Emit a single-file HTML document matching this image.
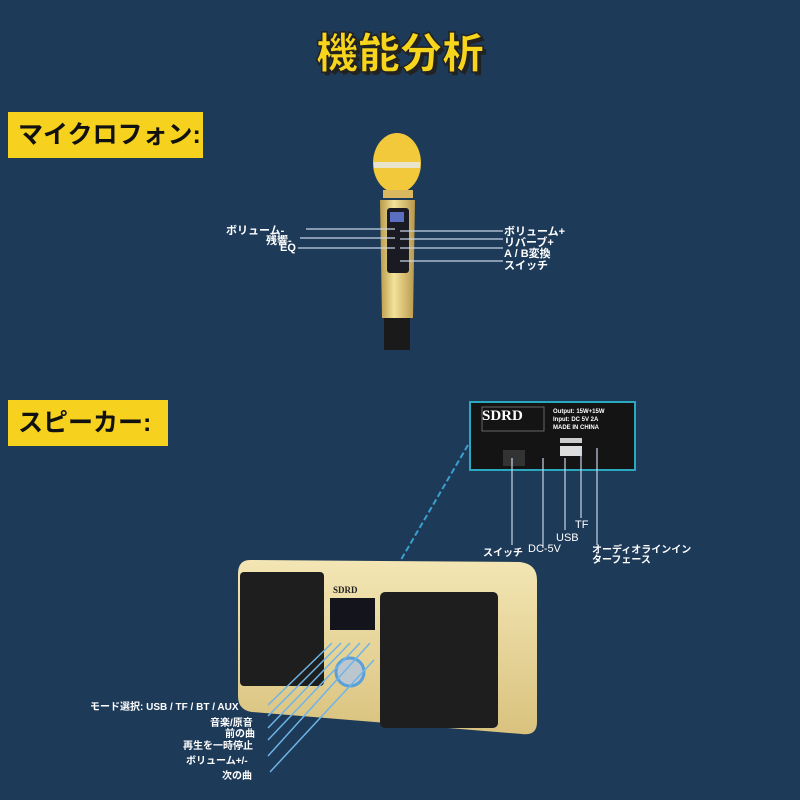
<!DOCTYPE html>
<html><head><meta charset="utf-8"><style>
body{margin:0;width:800px;height:800px;background:#1d3a58;overflow:hidden;position:relative;font-family:"Liberation Sans","Noto Sans CJK JP",sans-serif}
.t{position:absolute;white-space:nowrap;color:#fff;font-weight:bold}
.lab{position:absolute;background:#f6d21e;color:#111;font-size:25px;font-weight:bold;line-height:46px;padding-left:10px;box-sizing:border-box}
</style></head><body>
<div class="t" style="left:0;width:800px;text-align:center;top:20px;font-size:42px;color:#f8d51d;font-weight:900;-webkit-text-stroke:1.5px #222;text-shadow:3px 3px 0 #222">機能分析</div>
<div class="lab" style="left:8px;top:112px;width:195px;height:46px">マイクロフォン:</div>
<div class="lab" style="left:8px;top:400px;width:160px;height:46px">スピーカー:</div>

<svg width="800" height="800" style="position:absolute;left:0;top:0">
<defs>
<linearGradient id="g" x1="0" x2="1"><stop offset="0" stop-color="#b99a4a"/><stop offset=".4" stop-color="#f3e29a"/><stop offset="1" stop-color="#b8974a"/></linearGradient>
<linearGradient id="sp" x1="0" y1="0" x2="0" y2="1"><stop offset="0" stop-color="#f3e6b4"/><stop offset="1" stop-color="#d9c27e"/></linearGradient>
</defs>
<!-- mic -->
<ellipse cx="397" cy="163" rx="24" ry="30" fill="#f1c93a"/>
<rect x="374" y="162" width="46" height="6" fill="#e9e4cc"/>
<rect x="383" y="190" width="30" height="8" fill="#d9b860"/>
<path d="M380 200 L415 200 L413 318 L382 318 Z" fill="url(#g)"/>
<rect x="387" y="208" width="22" height="65" rx="3" fill="#1a1a22"/>
<rect x="390" y="212" width="14" height="10" fill="#5a6fc0"/>
<rect x="384" y="318" width="26" height="32" fill="#1a1a1a"/>
<g stroke="#c8d4e6" stroke-width="1.2">
<line x1="306" y1="229" x2="395" y2="229"/><line x1="300" y1="238" x2="395" y2="238"/><line x1="298" y1="248" x2="395" y2="248"/>
<line x1="400" y1="231" x2="503" y2="231"/><line x1="400" y1="239" x2="503" y2="239"/><line x1="400" y1="248" x2="503" y2="248"/><line x1="400" y1="261" x2="503" y2="261"/>
</g>
<!-- panel -->
<rect x="470" y="402" width="165" height="68" fill="#141414" stroke="#2aa8c0" stroke-width="2"/>
<rect x="482" y="407" width="62" height="24" fill="none" stroke="#666"/>
<rect x="503" y="450" width="22" height="16" fill="#333"/>
<rect x="560" y="446" width="22" height="10" fill="#ddd"/>
<rect x="560" y="438" width="22" height="5" fill="#ccc"/>
<g stroke="#c8d4e6" stroke-width="1.2">
<line x1="512" y1="458" x2="512" y2="545"/><line x1="543" y1="458" x2="543" y2="548"/>
<line x1="565" y1="458" x2="565" y2="530"/><line x1="581" y1="448" x2="581" y2="518"/><line x1="597" y1="448" x2="597" y2="545"/>
</g>
<line x1="468" y1="445" x2="395" y2="570" stroke="#3b9fd0" stroke-width="2" stroke-dasharray="6 3"/>
<!-- speaker -->
<path d="M250 560 L520 562 Q537 564 537 580 L537 722 Q537 736 522 734 L252 712 Q238 710 238 696 L238 574 Q238 560 250 560 Z" fill="url(#sp)"/>
<rect x="240" y="572" width="84" height="114" rx="4" fill="#1e1e1e"/>
<rect x="380" y="592" width="118" height="136" rx="5" fill="#1e1e1e"/>
<rect x="330" y="598" width="45" height="32" fill="#14141c"/>
<circle cx="350" cy="672" r="14" fill="#bcc6cf" stroke="#5aa0d8" stroke-width="3"/>
<g stroke="#6fb4e6" stroke-width="1.5">
<line x1="332" y1="643" x2="268" y2="705"/><line x1="341" y1="643" x2="268" y2="716"/><line x1="350" y1="643" x2="268" y2="728"/>
<line x1="360" y1="643" x2="268" y2="740"/><line x1="370" y1="643" x2="268" y2="756"/><line x1="374" y1="660" x2="270" y2="772"/>
</g>
</svg>

<div class="t" style="left:226px;top:222px;font-size:11px">ボリューム-</div>
<div class="t" style="left:266px;top:232px;font-size:11px">残響-</div>
<div class="t" style="left:280px;top:242px;font-size:11px">EQ</div>
<div class="t" style="left:504px;top:223px;font-size:11px">ボリューム+</div>
<div class="t" style="left:504px;top:234px;font-size:11px">リバーブ+</div>
<div class="t" style="left:504px;top:245px;font-size:11px">A / B変換</div>
<div class="t" style="left:504px;top:257px;font-size:11px">スイッチ</div>

<div class="t" style="left:482px;top:408px;font-size:15px;font-family:'Liberation Serif',serif">SDRD</div>
<div class="t" style="left:553px;top:408px;font-size:6px;line-height:8px">Output: 15W+15W<br>Input: DC 5V 2A<br>MADE IN CHINA</div>
<div class="t" style="left:483px;top:544px;font-size:10px">スイッチ</div>
<div class="t" style="left:528px;top:543px;font-size:11px;font-weight:normal">DC-5V</div>
<div class="t" style="left:556px;top:532px;font-size:11px;font-weight:normal">USB</div>
<div class="t" style="left:575px;top:519px;font-size:11px;font-weight:normal">TF</div>
<div class="t" style="left:592px;top:546px;font-size:10px;line-height:10px">オーディオラインイン<br>ターフェース</div>

<div class="t" style="left:333px;top:585px;font-size:9px;color:#222;font-family:'Liberation Serif',serif">SDRD</div>
<div class="t" style="left:90px;top:698px;font-size:10px">モード選択: USB / TF / BT / AUX</div>
<div class="t" style="left:210px;top:714px;font-size:10px">音楽/原音</div>
<div class="t" style="left:225px;top:725px;font-size:10px">前の曲</div>
<div class="t" style="left:183px;top:737px;font-size:10px">再生を一時停止</div>
<div class="t" style="left:186px;top:752px;font-size:10px">ボリューム+/-</div>
<div class="t" style="left:222px;top:767px;font-size:10px">次の曲</div>
</body></html>
